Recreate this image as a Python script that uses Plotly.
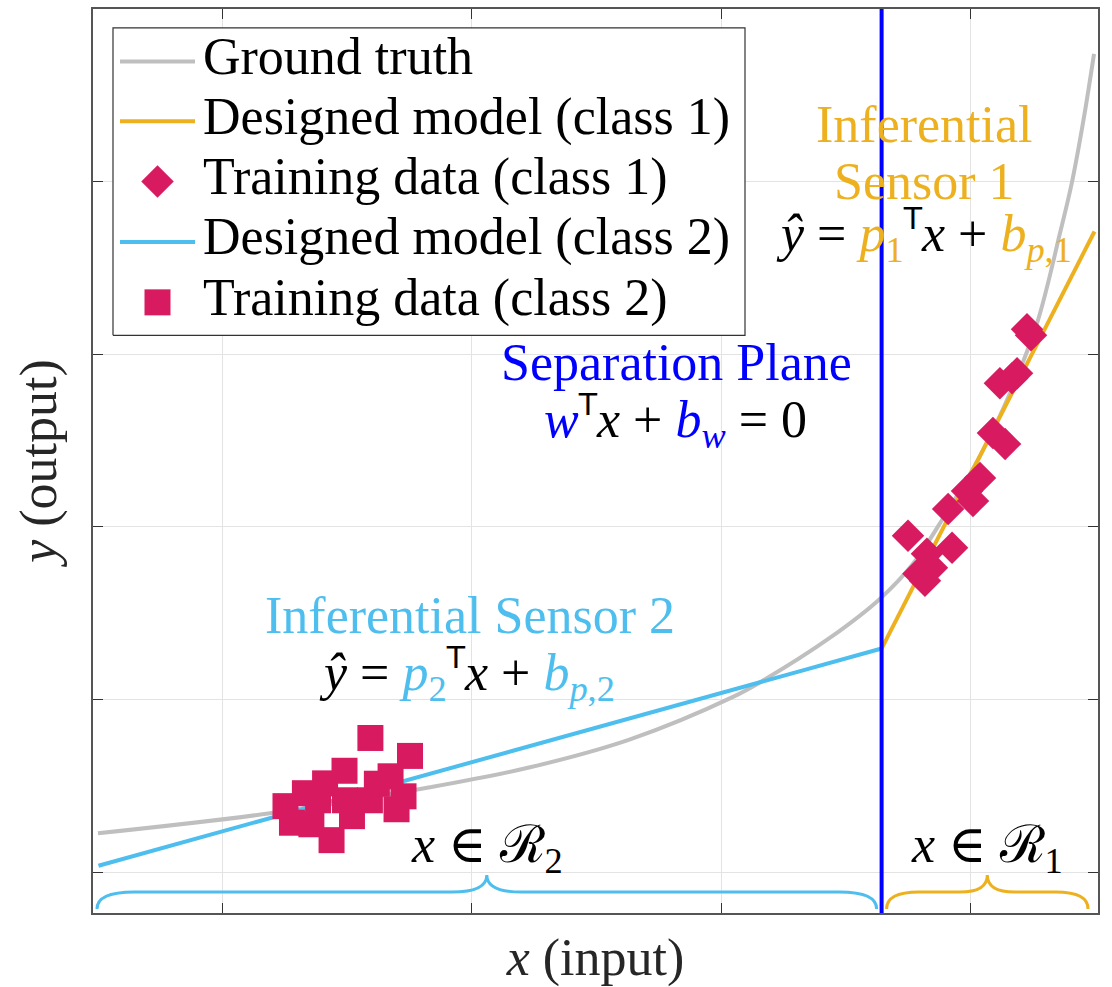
import plotly.graph_objects as go

# ---------------- data ----------------
# ground-truth input/output relation
gt_x = [0.498, 1.189, 1.831, 2.233, 2.635, 3.044, 3.169, 3.438, 3.639, 3.771,
        3.900, 4.040, 4.161, 4.269, 4.361, 4.410, 4.458, 4.498]
gt_y = [0.225, 0.341, 0.491, 0.607, 0.769, 1.012, 1.110, 1.358, 1.584, 1.786,
        2.069, 2.410, 2.775, 3.179, 3.699, 4.000, 4.376, 4.740]

# separation plane position on the input axis
sep_x = 3.645

# designed (piecewise linear) models
model1_x = [3.645, 4.500]
model1_y = [1.295, 3.711]
model2_x = [0.500, 3.645]
model2_y = [0.037, 1.295]

# training data, class 1 (right of the plane)
class1_x = [3.751, 3.793, 3.819, 3.847, 3.827, 3.928, 3.912, 3.988, 4.040,
            4.012, 4.092, 4.141, 4.120, 4.169, 4.189, 4.229, 4.245]
class1_y = [1.948, 1.728, 1.688, 1.763, 1.844, 1.879, 2.104, 2.208, 2.283,
            2.150, 2.543, 2.480, 2.832, 2.861, 2.890, 3.145, 3.110]

# training data, class 2 (left of the plane)
class2_x = [1.592, 1.751, 1.488, 1.410, 1.329, 1.251, 1.277, 1.355, 1.436,
            1.382, 1.490, 1.518, 1.590, 1.618, 1.673, 1.725, 1.697]
class2_y = [0.777, 0.673, 0.587, 0.514, 0.457, 0.382, 0.286, 0.277, 0.185,
            0.416, 0.416, 0.324, 0.416, 0.512, 0.555, 0.439, 0.364]

# axes
x_range = [0.478, 4.514]
y_range = [-0.237, 5.0]
x_ticks = [1, 2, 3, 4]
y_ticks = [0, 1, 2, 3, 4, 5]

legend_labels = ["Ground truth", "Designed model (class 1)", "Training data (class 1)",
                 "Designed model (class 2)", "Training data (class 2)"]

# ---------------- styling ----------------
GRAY = "#BFBFBF"
ORANGE = "#EDB120"
SKY = "#4DBEEE"
CRIMSON = "#D81B60"
BLUE = "#0000FF"
FONT = "Liberation Serif, DejaVu Serif, serif"
FS = 52

W, H = 1112, 987
ML, MR, MT, MB = 93, 14, 7, 74
PW, PH = W - ML - MR, H - MT - MB


def px2paper(px, py):
    return (px - ML) / PW, (H - MB - py) / PH


fig = go.Figure()

fig.add_trace(go.Scatter(x=gt_x, y=gt_y, mode="lines", line=dict(color=GRAY, width=4, shape="spline"),
                         showlegend=False, hoverinfo="skip"))
fig.add_trace(go.Scatter(x=model2_x, y=model2_y, mode="lines", line=dict(color=SKY, width=4),
                         showlegend=False))
fig.add_trace(go.Scatter(x=model1_x, y=model1_y, mode="lines", line=dict(color=ORANGE, width=4),
                         showlegend=False))
fig.add_trace(go.Scatter(x=class2_x, y=class2_y, mode="markers",
                         marker=dict(symbol="square", size=26, color=CRIMSON, line=dict(width=0)),
                         showlegend=False))
fig.add_trace(go.Scatter(x=class1_x, y=class1_y, mode="markers",
                         marker=dict(symbol="diamond", size=25, color=CRIMSON, line=dict(width=0)),
                         showlegend=False))
fig.add_trace(go.Scatter(x=[sep_x, sep_x], y=y_range, mode="lines", line=dict(color=BLUE, width=4),
                         showlegend=False, cliponaxis=True))


# ---------------- region braces ----------------
def brace_path(x0, x1, y_end, y_flat, y_tip, d_end, d_tip):
    xm = (x0 + x1) / 2
    return (f"M{x0},{y_end} Q{x0},{y_flat} {x0 + d_end},{y_flat} "
            f"L{xm - d_tip},{y_flat} Q{xm},{y_flat} {xm},{y_tip} "
            f"Q{xm},{y_flat} {xm + d_tip},{y_flat} "
            f"L{x1 - d_end},{y_flat} Q{x1},{y_flat} {x1},{y_end}")


gap = 0.02
fig.add_shape(type="path", xref="x", yref="y",
              path=brace_path(model2_x[0] - 0.006, sep_x - gap, -0.214, -0.116, -0.017, 0.15, 0.14),
              line=dict(color=SKY, width=3), layer="above")
fig.add_shape(type="path", xref="x", yref="y",
              path=brace_path(sep_x + gap, model1_x[1] - 0.026, -0.214, -0.116, -0.017, 0.13, 0.11),
              line=dict(color=ORANGE, width=3), layer="above")

# ---------------- legend (drawn on an overlay in plot-fraction units) ----------------
bx0, by0 = px2paper(113, 334)
bx1, by1 = px2paper(745, 26)
fig.add_trace(go.Scatter(x=[bx0, bx1, bx1, bx0, bx0], y=[by0, by0, by1, by1, by0],
                         mode="lines", fill="toself", fillcolor="white",
                         line=dict(color="#333333", width=1.2),
                         xaxis="x2", yaxis="y2", showlegend=False, hoverinfo="skip"))

rows_py = [59.5, 119.5, 180, 240.5, 301]
sym_x0, _ = px2paper(120, 0)
sym_x1, _ = px2paper(195, 0)
sym_xc, _ = px2paper(157.5, 0)
for row, color in ((0, GRAY), (1, ORANGE), (3, SKY)):
    _, yy = px2paper(0, rows_py[row])
    fig.add_trace(go.Scatter(x=[sym_x0, sym_x1], y=[yy, yy], mode="lines",
                             line=dict(color=color, width=4), xaxis="x2", yaxis="y2",
                             showlegend=False, hoverinfo="skip"))
_, y_d = px2paper(0, rows_py[2])
_, y_s = px2paper(0, rows_py[4])
fig.add_trace(go.Scatter(x=[sym_xc], y=[y_d], mode="markers",
                         marker=dict(symbol="diamond", size=25, color=CRIMSON),
                         xaxis="x2", yaxis="y2", showlegend=False, hoverinfo="skip"))
fig.add_trace(go.Scatter(x=[sym_xc], y=[y_s], mode="markers",
                         marker=dict(symbol="square", size=26, color=CRIMSON),
                         xaxis="x2", yaxis="y2", showlegend=False, hoverinfo="skip"))

annotations = []
text_x, _ = px2paper(201, 0)
for label, py in zip(legend_labels, rows_py):
    _, yy = px2paper(0, py - 4.5)
    annotations.append(dict(x=text_x, y=yy, text=label, xanchor="left", yanchor="middle"))


def col(t, c):
    return f'<span style="color:{c}">{t}</span>'


# small sans "T" used as the transpose mark
TT = '<sup><span style="font-family:DejaVu Sans;font-size:30px">T</span></sup>'

eq1 = ("<i>ŷ</i> = " + col("<i>p</i>", ORANGE) + "<sub>" + col("1", ORANGE) + "</sub>" + TT
       + "<i>x</i> + " + col("<i>b</i>", ORANGE) + "<sub>" + col("<i>p</i>,1", ORANGE) + "</sub>")
eq2 = ("<i>ŷ</i> = " + col("<i>p</i>", SKY) + "<sub>" + col("2", SKY) + "</sub>" + TT
       + "<i>x</i> + " + col("<i>b</i>", SKY) + "<sub>" + col("<i>p</i>,2", SKY) + "</sub>")
eq_sep = (col("<i>w</i>", BLUE) + TT + "<i>x</i> + " + col("<i>b</i>", BLUE)
          + "<sub>" + col("<i>w</i>", BLUE) + "</sub> = 0")

texts = [
    ("Inferential", 924, 123, ORANGE),
    ("Sensor 1", 924, 180, ORANGE),
    (eq1, 924, 234, "black"),
    ("Separation Plane", 676, 361, BLUE),
    (eq_sep, 675, 420, "black"),
    ("Inferential Sensor 2", 470, 615, SKY),
    (eq2, 467, 674, "black"),
    ("<i>x</i> ∈ ℛ<sub>2</sub>", 487, 848, "black"),
    ("<i>x</i> ∈ ℛ<sub>1</sub>", 987, 848, "black"),
]
for t, px, py, c in texts:
    xx, yy = px2paper(px, py)
    annotations.append(dict(x=xx, y=yy, text=t, xanchor="center", yanchor="middle",
                            font=dict(color=c)))

for a in annotations:
    a.update(xref="paper", yref="paper", showarrow=False)
    a.setdefault("font", {})
    a["font"].update(family=FONT, size=FS)
    a["font"].setdefault("color", "black")

axis_common = dict(showgrid=True, gridcolor="#E3E3E3", gridwidth=1, zeroline=False,
                   showline=True, linecolor="#555555", linewidth=1.5, mirror="ticks",
                   ticks="inside", ticklen=10, tickwidth=1.2, tickcolor="#333333",
                   showticklabels=False)

fig.update_layout(
    width=W, height=H,
    margin=dict(l=ML, r=MR, t=MT, b=MB),
    paper_bgcolor="white", plot_bgcolor="white",
    font=dict(family=FONT, size=FS, color="black"),
    showlegend=False,
    xaxis=dict(range=x_range, tickvals=x_ticks,
               title=dict(text="<i>x</i> (input)", standoff=26,
                          font=dict(family=FONT, size=FS, color="#262626")),
               **axis_common),
    yaxis=dict(range=y_range, tickvals=y_ticks,
               title=dict(text="<i>y</i> (output)", standoff=18,
                          font=dict(family=FONT, size=FS, color="#262626")),
               **axis_common),
    xaxis2=dict(overlaying="x", range=[0, 1], visible=False),
    yaxis2=dict(overlaying="y", range=[0, 1], visible=False),
    annotations=annotations,
)

fig.write_html("out.html")
